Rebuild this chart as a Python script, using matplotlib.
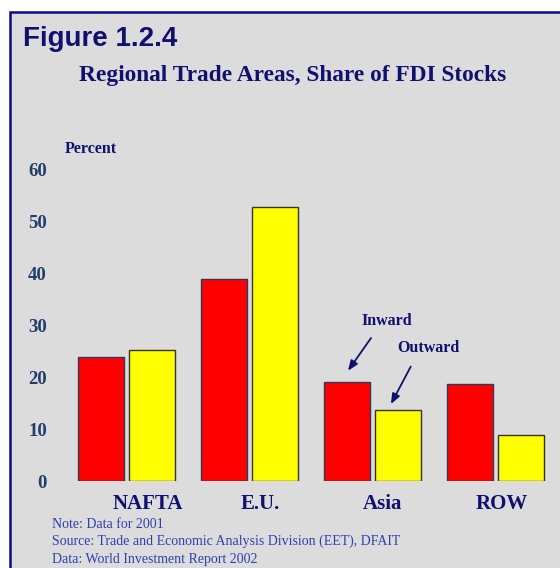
import matplotlib
matplotlib.use("Agg")
import matplotlib.pyplot as plt
from matplotlib.patches import Rectangle
import numpy as np

categories = ["NAFTA", "E.U.", "Asia", "ROW"]
inward = [23.9, 38.8, 19.1, 18.6]
outward = [25.1, 52.6, 13.7, 8.9]
yticks = [0, 10, 20, 30, 40, 50, 60]
notes = ["Note: Data for 2001",
         "Source: Trade and Economic Analysis Division (EET), DFAIT",
         "Data: World Investment Report 2002"]

W, H = 560, 568
fig = plt.figure(figsize=(W / 100, H / 100), dpi=100, facecolor="white")

# background panel with border
panel = Rectangle((10 / W, -0.2), 1.2, 1.2 - 12 / H, transform=fig.transFigure,
                  facecolor="#DCDCDC", edgecolor="#0a0a8a", linewidth=1.8,
                  zorder=-5)
fig.patches.append(panel)

navy = "#101070"
tickc = "#1f3f6a"

ax = fig.add_axes([60 / W, (H - 481) / H, 495 / W, 312 / H])
ax.set_zorder(2)
ax.patch.set_visible(False)
x = np.arange(len(categories))
w = 46 / 123
off = 51 / 2 / 123
ax.bar(x - off, inward, width=w, color="#FF0000", edgecolor="#2a3a5a", linewidth=1)
ax.bar(x + off, outward, width=w, color="#FFFF00", edgecolor="#333333", linewidth=1)
ax.set_xlim(-(126.5 - 60) / 123, (555 - 126.5) / 123)
ax.set_ylim(0, 60)
for s in ax.spines.values():
    s.set_visible(False)
ax.set_yticks(yticks)
ax.set_yticklabels([str(t) for t in yticks], family="Liberation Serif",
                   fontweight="bold", fontsize=13.5, color=tickc)
ax.tick_params(axis="y", length=0, pad=9.5)
ax.set_xticks([])

lab_off = [0.17, 0.09, 0.08, 0.05]
for i, c in enumerate(categories):
    ax.text(i + lab_off[i], -4.5, c, ha="center", va="center",
            family="Liberation Serif", fontweight="bold", fontsize=15,
            color=navy, clip_on=False)

ax.text(-0.293, 63.9, "Percent", ha="center", va="center",
        family="Liberation Serif", fontweight="bold", fontsize=11.5, color=navy,
        clip_on=False)

# annotations
ax.text(2.114, 30.8, "Inward", ha="center", va="center",
        family="Liberation Serif", fontweight="bold", fontsize=11.5, color=navy)
ax.text(2.451, 25.6, "Outward", ha="center", va="center",
        family="Liberation Serif", fontweight="bold", fontsize=11.5, color=navy)
ax.annotate("", xy=(1.801, 21.2), xytext=(1.988, 27.5),
            arrowprops=dict(arrowstyle="-|>,head_length=0.5,head_width=0.2",
                            color=navy, lw=1.3, mutation_scale=12,
                            shrinkA=0, shrinkB=0))
ax.annotate("", xy=(2.150, 14.8), xytext=(2.311, 22.0),
            arrowprops=dict(arrowstyle="-|>,head_length=0.5,head_width=0.2",
                            color=navy, lw=1.3, mutation_scale=12,
                            shrinkA=0, shrinkB=0))

fig.text(23 / W, 1 - 39 / H, "Figure 1.2.4", ha="left", va="center",
         family="Liberation Sans", fontweight="bold", fontsize=20, color=navy)
fig.text(293 / W, 1 - 76 / H, "Regional Trade Areas, Share of FDI Stocks",
         ha="center", va="center", family="Liberation Serif",
         fontweight="bold", fontsize=16.8, color=navy)

for k, t in enumerate(notes):
    fig.text(52 / W, 1 - (524 + 17.5 * k) / H, t, ha="left", va="center",
             family="Liberation Serif", fontsize=10, color="#2b3fb0")

fig.savefig("out.png", dpi=100, facecolor="white")
